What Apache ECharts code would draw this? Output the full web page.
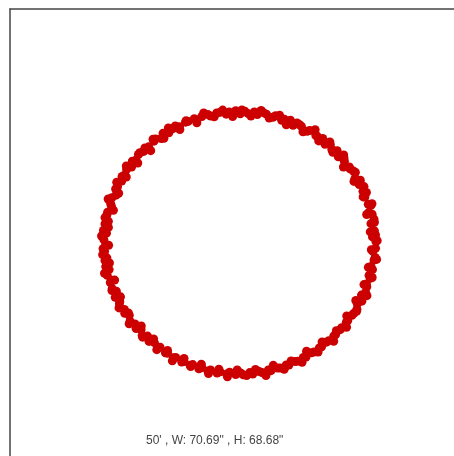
<!DOCTYPE html>
<html>
<head>
<meta charset="utf-8">
<script src="https://cdn.jsdelivr.net/npm/echarts@6/dist/echarts.min.js"></script>
<style>html,body{margin:0;padding:0;background:#fff;}#c{width:454px;height:456px;}</style>
</head>
<body>
<div id="c"></div>
<script>
const captionText = "50' , W: 70.69\" , H: 68.68\"";
const xValues = [
35.9,35.0,35.8,35.5,34.6,35.4,34.9,34.0,34.6,33.9,33.0,33.4,32.5,31.5,31.8,30.4,30.5,29.1,28.9,27.6,27.5,26.0,25.7,24.3,23.9,22.5,21.9,20.5,20.1,18.5,17.8,16.3,15.7,14.1,13.4,11.8,11.1,9.5,8.8,7.1,6.3,4.7,3.9,2.2,1.4,
0.2,-1.0,-2.7,-3.5,-5.1,-6.0,-7.6,-8.3,-9.9,-11.2,-11.9,-13.5,-14.2,-15.8,-16.9,-17.5,-18.6,-20.1,-20.6,-22.1,-22.5,-23.9,-24.9,-25.2,-26.6,-27.3,-28.2,-28.4,-29.7,-30.2,-30.9,-31.0,-32.1,-32.6,-32.5,-33.6,-33.9,-33.7,-34.7,-34.9,-34.5,-35.4,-35.8,-35.0,-35.7,
-35.2,-35.9,-35.5,-34.9,-35.4,-35.2,-34.3,-34.8,-33.6,-34.0,-33.5,-32.4,-32.7,-31.5,-31.6,-30.3,-30.2,-29.0,-28.8,-27.5,-27.2,-25.9,-25.6,-24.2,-23.8,-22.4,-21.5,-20.9,-19.5,-18.9,-17.4,-16.8,-15.2,-14.6,-13.0,-12.3,-10.7,-9.9,-8.3,-7.6,-5.9,-5.1,-3.4,-2.6,-1.0,
0.3,1.0,2.7,3.5,5.2,5.9,7.6,8.3,10.0,10.7,12.3,13.0,14.6,15.3,16.8,17.5,18.9,19.6,21.0,21.6,22.9,23.5,24.8,25.3,26.5,26.9,28.1,28.5,29.6,30.1,30.9,31.0,32.2,32.1,33.2,33.5,33.4,34.4,34.1,35.0,34.6,35.4,35.7,35.1,35.8
];
const yValues = [
0.4,1.6,2.1,3.2,5.1,6.3,7.6,8.0,9.9,10.2,12.1,13.3,13.6,15.4,16.5,17.0,18.6,19.5,20.0,21.5,22.4,22.7,24.3,24.6,25.9,26.0,27.5,28.0,28.3,29.6,29.4,30.7,31.2,31.0,32.3,32.6,32.3,33.5,33.1,33.9,34.3,33.8,34.5,34.1,34.7,
34.0,34.8,34.5,33.9,34.4,34.2,33.4,33.8,33.3,32.4,32.7,32.0,31.8,30.6,30.8,30.1,29.0,28.9,27.5,27.4,26.8,25.3,25.0,24.1,23.3,21.8,21.5,20.0,19.4,17.9,17.5,16.3,14.8,14.2,12.6,11.9,10.3,9.7,8.1,7.4,5.7,5.0,3.3,2.6,0.9,
-0.3,-1.5,-2.2,-3.9,-4.6,-6.2,-7.0,-8.5,-9.8,-10.4,-12.0,-12.7,-14.3,-15.4,-16.0,-17.5,-18.5,-19.0,-20.6,-21.3,-22.5,-22.8,-24.3,-24.5,-25.9,-26.2,-27.5,-27.4,-28.9,-29.0,-30.2,-30.1,-31.3,-31.2,-32.2,-32.0,-33.1,-32.8,-33.7,-33.4,-34.2,-33.9,-34.5,-34.0,-34.6,
-34.2,-34.7,-34.1,-34.5,-33.8,-34.1,-33.4,-33.6,-32.9,-32.9,-32.1,-32.1,-31.2,-31.1,-30.1,-30.0,-28.9,-28.7,-27.6,-27.3,-26.1,-25.7,-24.5,-24.1,-22.8,-22.3,-20.9,-20.4,-19.0,-18.5,-17.4,-16.0,-15.3,-13.7,-13.0,-11.5,-10.8,-9.3,-8.5,-7.0,-6.2,-4.5,-3.8,-2.2,-1.4
];
const xValuesB = [
36.24,34.42,35.51,33.47,34.86,32.54,32.76,30.13,29.98,27.35,27.43,24.57,23.78,20.85,19.91,16.70,15.15,12.31,10.57,7.82,5.69,3.01,0.63,
-1.80,-4.42,-6.65,-9.43,-11.22,-14.05,-15.69,-18.72,-19.88,-22.75,-23.36,-26.22,-26.77,-29.78,-29.79,-32.30,-31.80,-34.56,-33.18,-35.39,-34.49,-36.30,
-34.44,-36.01,-34.22,-35.52,-32.85,-33.56,-31.31,-31.70,-29.23,-29.03,-25.85,-25.49,-22.60,-21.76,-18.93,-17.67,-14.60,-12.85,-10.04,-8.16,-5.42,-3.17,
-0.60,1.88,4.21,6.97,8.89,11.77,13.58,16.46,17.64,20.68,21.74,24.79,25.49,28.17,28.22,30.82,30.61,33.55,32.76,34.92,33.91,36.08,34.70
];
const yValuesB = [
0.62,2.92,5.46,7.50,10.36,12.13,14.85,16.21,18.92,20.00,23.19,23.86,26.60,26.86,29.81,29.25,31.58,31.13,33.60,32.88,34.90,33.41,35.03,
33.29,34.98,33.22,34.23,31.62,32.16,29.88,30.29,27.56,27.31,24.31,23.76,21.04,20.27,17.38,16.00,13.10,11.57,8.63,6.69,4.11,1.85,
-0.59,-3.06,-5.26,-7.97,-9.75,-12.52,-14.17,-17.08,-18.43,-21.27,-21.81,-24.78,-25.24,-28.06,-28.30,-31.00,-30.40,-32.53,-31.88,-34.34,-33.23,-35.21,
-33.43,-34.89,-33.29,-34.89,-32.20,-33.22,-31.06,-31.40,-28.49,-28.71,-26.06,-25.85,-23.08,-22.18,-19.18,-17.99,-15.14,-13.85,-10.95,-9.09,-6.40,-4.31,-1.76
];
const points = xValues.map((x, i) => [x, yValues[i]]).concat(xValuesB.map((x, i) => [x, yValuesB[i]]));
const chart = echarts.init(document.getElementById('c'), null, {renderer: 'canvas'});
const hiddenParts = {axisTick: {show: false}, axisLabel: {show: false}, splitLine: {show: false}};
chart.setOption({
  animation: false,
  backgroundColor: '#ffffff',
  grid: {show: false, left: 10, top: 9, right: 0, bottom: 0},
  xAxis: Object.assign({type: 'value', min: -60.39, max: 56.45, position: 'top',
    axisLine: {show: true, onZero: false, lineStyle: {color: '#444', width: 1.5}}}, hiddenParts),
  yAxis: Object.assign({type: 'value', min: -56.05, max: 61.58, position: 'left',
    axisLine: {show: true, onZero: false, lineStyle: {color: '#444', width: 1.5}}}, hiddenParts),
  graphic: [{
    type: 'text', left: 146, top: 435,
    style: {text: captionText, fill: '#444', font: '12px "Liberation Sans", Arial, sans-serif'}
  }],
  series: [{
    type: 'scatter', data: points, symbol: 'circle', symbolSize: 9,
    itemStyle: {color: '#cc0000', opacity: 1}
  }]
});
</script>
</body>
</html>
